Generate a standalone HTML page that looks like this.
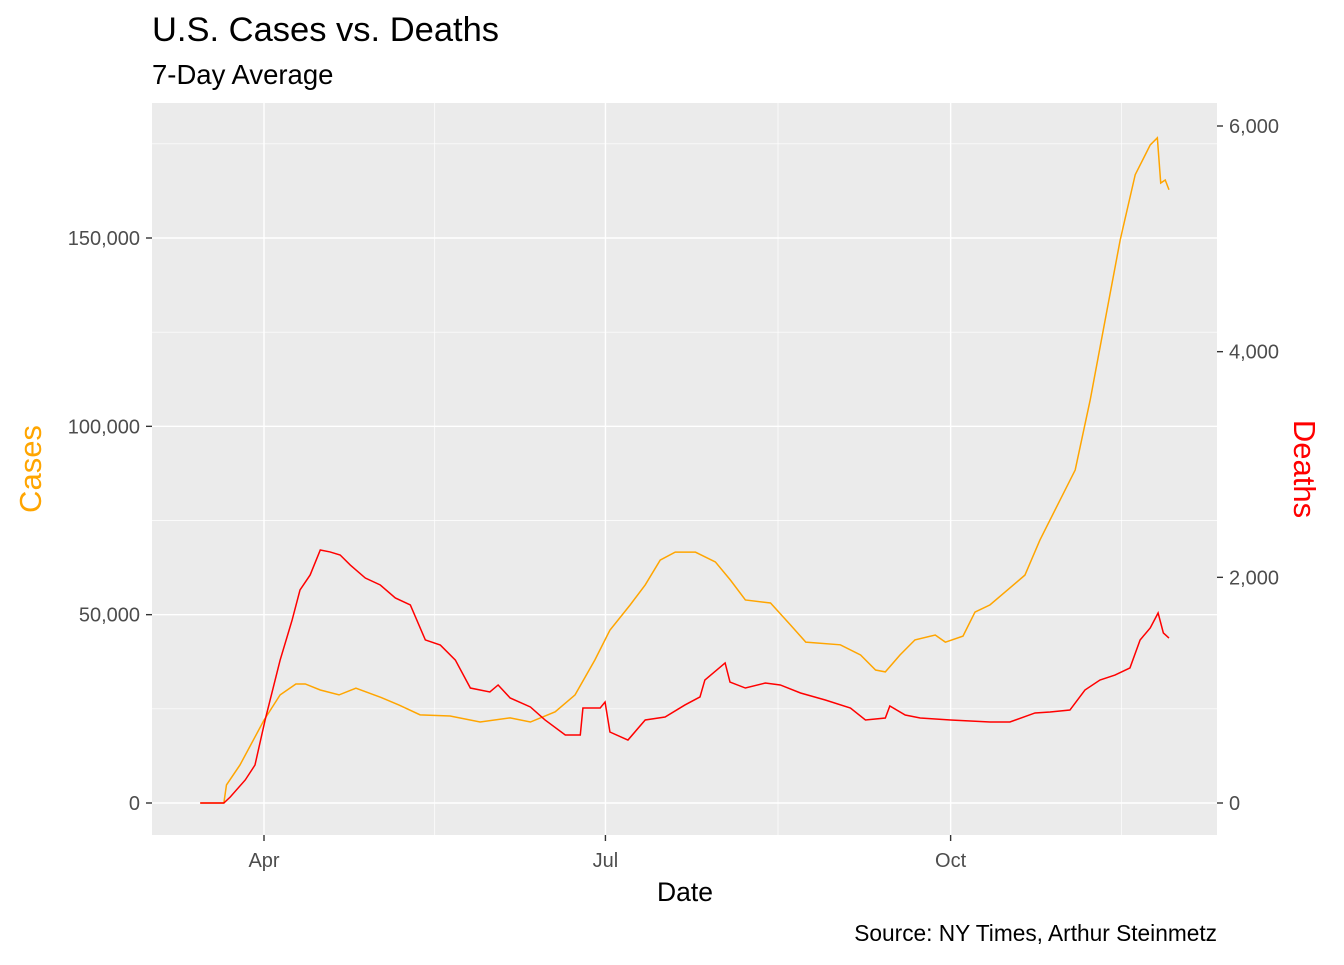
<!DOCTYPE html>
<html><head><meta charset="utf-8"><style>
body{margin:0;background:#fff;font-family:"Liberation Sans",Arial,sans-serif}
svg text{font-family:"Liberation Sans",Arial,sans-serif}
</style></head><body>
<svg id="c" width="1344" height="960" xmlns="http://www.w3.org/2000/svg">
<text x="152" y="41" font-size="34.5" fill="#000">U.S. Cases vs. Deaths</text>
<text x="152" y="84" font-size="27.5" fill="#000">7-Day Average</text>
<rect x="152" y="103" width="1065" height="732" fill="#ebebeb"/>
<g id="grid"></g>
<g id="series"></g>
<g id="axes"></g>
<text x="685" y="901" font-size="26.5" text-anchor="middle" fill="#000">Date</text>
<text transform="translate(41,469) rotate(-90)" font-size="31" text-anchor="middle" fill="orange">Cases</text>
<text transform="translate(1294,469) rotate(90)" font-size="31" text-anchor="middle" fill="red">Deaths</text>
<text x="1217" y="941" font-size="22.7" text-anchor="end" fill="#000">Source: NY Times, Arthur Steinmetz</text>
</svg>
<script>
const caseDays=[-17,-10.7,-10,-6.4,0,4.3,8.5,11,15,20,24.5,31,36,41.6,49.6,57.6,65.6,71,77.6,82.9,88.2,92.2,97.6,101.6,105.6,109.6,115,120.3,124.3,128.3,135,140.3,144.4,153.6,159,163,165.6,169.5,173.5,178.9,181.6,186.3,189.5,193.5,198.8,202.8,206.8,212.2,216.2,220.2,224.2,228.2,232.2,236.2,238.1,239,240.2,241.2];
const caseVals=[0,0,4800,10100,22000,28700,31600,31600,30000,28700,30500,28100,26000,23400,23100,21500,22600,21500,24200,28700,38000,45900,52600,57900,64500,66600,66600,64000,59200,53900,53100,47300,42700,42000,39300,35300,34800,39300,43300,44600,42700,44300,50700,52600,57100,60500,69800,80500,88400,107000,128300,149500,166800,174700,176600,164600,165400,162800];
const deathDays=[-17,-10.7,-9,-5,-2.4,0.3,4.3,7.5,9.6,12.3,15,17.6,20.3,23,27,31,35,39,43,47,51,55,60.2,62.4,65.6,71,74.9,80.3,84.3,85,89.6,90.9,92.2,97,101.6,106.9,112.2,116.2,117.5,122.9,124.2,128.3,133.6,137.6,143,149.6,156.3,160.3,165.6,166.8,170.9,174.9,183,193.5,198.8,205.5,209.5,214.8,218.8,222.8,226.8,230.8,233.5,236.2,238.3,239.7,241.2];
const deathVals=[0,0,53,204,337,736,1267,1622,1888,2021,2242,2225,2198,2109,1994,1932,1817,1755,1445,1400,1267,1019,984,1046,931,851,736,603,603,842,842,895,629,558,736,762,869,940,1090,1241,1072,1019,1063,1046,975,913,842,736,753,860,780,753,736,718,718,798,807,824,1001,1090,1134,1197,1445,1551,1684,1507,1462];
const caseTicks=[0,50000,100000,150000];
const deathTicks=[0,2000,4000,6000];
const xTickDays=[0,91,183];
const xTickLabels=["Apr","Jul","Oct"];
const xMinorDays=[45.5,137,228.5];
const X=d=>264+d*3.752;
const YC=v=>803-v*(565/150000);
const YD=v=>803-v*(677/6000);
const NS="http://www.w3.org/2000/svg";
function el(tag,attrs,parent,txt){const e=document.createElementNS(NS,tag);for(const k in attrs)e.setAttribute(k,attrs[k]);if(txt!==undefined)e.textContent=txt;parent.appendChild(e);return e;}
const grid=document.getElementById('grid'),axes=document.getElementById('axes'),series=document.getElementById('series');
for(let i=0;i<caseTicks.length;i++){
 const y=YC(caseTicks[i]);
 const g=el('line',{x1:152,x2:1217,y1:y,y2:y,stroke:'#fff','stroke-width':1.4},grid);
 
 if(i<caseTicks.length-1){const y2=YC((caseTicks[i]+caseTicks[i+1])/2);
  const m=el('line',{x1:152,x2:1217,y1:y2,y2:y2,stroke:'#fff','stroke-width':0.7},grid);
  }
 el('line',{x1:146,x2:152,y1:y,y2:y,stroke:'#333','stroke-width':1.4},axes);
 const t=el('text',{x:140,y:y+7,'font-size':20,'text-anchor':'end',fill:'#4d4d4d'},axes,caseTicks[i].toLocaleString('en-US'));
 
}
{const y=YC(175000);const m=el('line',{x1:152,x2:1217,y1:y,y2:y,stroke:'#fff','stroke-width':0.7},grid);
 }
for(let i=0;i<deathTicks.length;i++){
 const y=YD(deathTicks[i]);
 el('line',{x1:1217,x2:1223,y1:y,y2:y,stroke:'#333','stroke-width':1.4},axes);
 const t=el('text',{x:1229,y:y+7,'font-size':20,fill:'#4d4d4d'},axes,deathTicks[i].toLocaleString('en-US'));
 
}
for(let i=0;i<xTickDays.length;i++){
 const x=X(xTickDays[i]);
 const g=el('line',{x1:x,x2:x,y1:103,y2:835,stroke:'#fff','stroke-width':1.4},grid);
 
 el('line',{x1:x,x2:x,y1:835,y2:841,stroke:'#333','stroke-width':1.4},axes);
 const t=el('text',{x:x,y:867,'font-size':20,'text-anchor':'middle',fill:'#4d4d4d'},axes,xTickLabels[i]);
 
}
for(const d of xMinorDays){const x=X(d);
 const m=el('line',{x1:x,x2:x,y1:103,y2:835,stroke:'#fff','stroke-width':0.7},grid);
 }
const cp=el('polyline',{points:caseDays.map((d,i)=>X(d)+','+YC(caseVals[i])).join(' '),fill:'none',stroke:'orange','stroke-width':1.5},series);


const dp=el('polyline',{points:deathDays.map((d,i)=>X(d)+','+YD(deathVals[i])).join(' '),fill:'none',stroke:'red','stroke-width':1.5},series);


</script>
</body></html>
